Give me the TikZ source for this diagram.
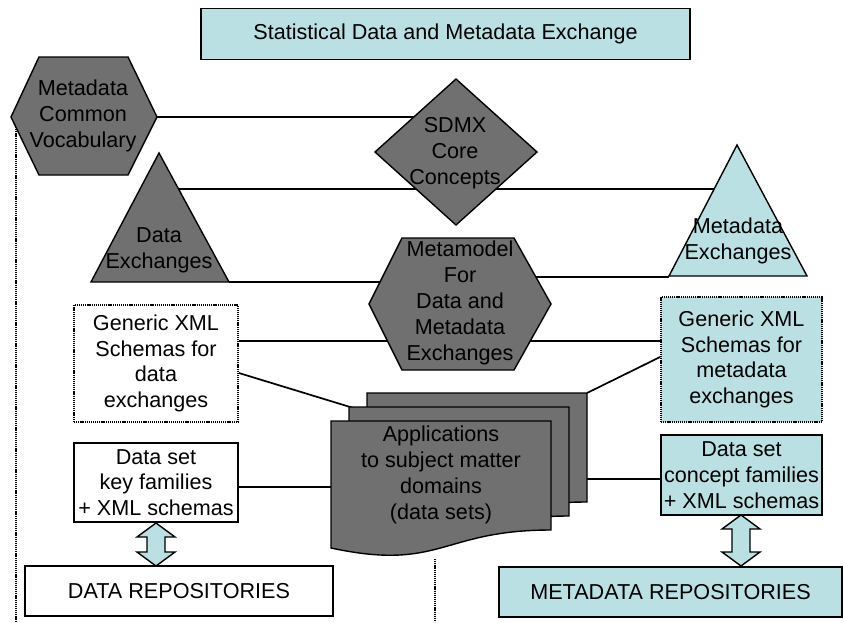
\documentclass[tikz,border=0pt]{standalone}
\usepackage{fontspec}
\setmainfont{Liberation Sans}
\definecolor{dgray}{RGB}{112,112,112}
\definecolor{lcyan}{RGB}{187,224,227}
\tikzset{
  txt/.style={font=\fontsize{21.6}{25.8}\selectfont, text=black, align=center, inner sep=1pt},
  conn/.style={line width=1.7pt},
  dotline/.style={line width=2pt, dash pattern=on 1.2pt off 0.9pt},
  shapefill/.style={draw, line width=1.4pt, fill=dgray},
  cyanfill/.style={draw, line width=1.4pt, fill=lcyan},
  boxsolid/.style={txt, draw, line width=1.7pt, inner sep=2pt},
  boxdotted/.style={txt, draw, line width=1.8pt, dash pattern=on 1.2pt off 0.9pt, inner sep=2pt},
  dblarrow/.style={draw, line width=1.4pt, fill=lcyan}
}
\begin{document}
\begin{tikzpicture}[x=1pt,y=-1pt]
\useasboundingbox (0,0) rectangle (844,622);

% --- boxes (nodes) ---
\node[boxsolid, fill=lcyan, minimum width=489, minimum height=51] (title) at (445.5,34) {Statistical Data and Metadata Exchange};
\node[boxdotted, fill=white, minimum width=164, minimum height=117] (gxd) at (156,363.5) {Generic XML\\Schemas for\\data\\exchanges};
\node[boxdotted, fill=lcyan, minimum width=161, minimum height=125] (gxm) at (741.5,359.5) {Generic XML\\Schemas for\\metadata\\exchanges};
\node[boxsolid, fill=white, minimum width=164, minimum height=79] (dskf) at (156,482.5) {Data set\\key families\\+ XML schemas};
\node[boxsolid, fill=lcyan, minimum width=161, minimum height=80] (dscf) at (741.5,475) {Data set\\concept families\\+ XML schemas};
\node[boxsolid, fill=white, minimum width=308, minimum height=50] (drep) at (179,591) {DATA REPOSITORIES};
\node[boxsolid, fill=lcyan, minimum width=343, minimum height=50] (mrep) at (670.5,592) {METADATA REPOSITORIES};

% --- anchor coordinates of drawn shapes ---
\coordinate (mcvE) at (157,117);
\coordinate (sdmxW) at (430,117);
\coordinate (deE) at (170,189);
\coordinate (meW) at (725,189);
\coordinate (deBR) at (229,282);
\coordinate (mmW1) at (420,282);
\coordinate (mmW2) at (420,341);
\coordinate (mmE1) at (500,277);
\coordinate (meBL) at (669,277);
\coordinate (mmE2) at (500,341);
\coordinate (docMid) at (360,410);
\coordinate (docBack) at (587,393);
\coordinate (docW) at (345,487);
\coordinate (docE) at (540,479);
\coordinate (mcvB) at (16,127);
\coordinate (leftEnd) at (16,622);
\coordinate (docB) at (435,559);
\coordinate (midEnd) at (435,622);

% --- connectors (behind shapes) ---
\draw[conn] (mcvE) -- (sdmxW);
\draw[conn] (deE) -- (meW);
\draw[conn] (deBR) -- (mmW1);
\draw[conn] (gxd.east |- mmW2) -- (mmW2);
\draw[conn] (mmE1) -- (meBL);
\draw[conn] (mmE2) -- (gxm.west |- mmE2);
\draw[conn] (gxd.east |- 0,373) -- (docMid);
\draw[conn] (gxm.west |- 0,357) -- (docBack);
\draw[conn] (dskf.east |- docW) -- (docW);
\draw[conn] (docE) -- (dscf.west |- docE);
\draw[dotline] (mcvB) -- (leftEnd);
\draw[dotline] (docB) -- (midEnd);

% --- shapes ---
\path[shapefill] (11,117) -- (39,57) -- (128,57) -- (157,117) -- (128,175) -- (39,175) -- cycle;
\path[shapefill] (375,152) -- (456,79) -- (537,152) -- (456,225) -- cycle;
\path[shapefill] (159,153) -- (91,282) -- (229,282) -- cycle;
\path[cyanfill] (737,145) -- (669,276) -- (807,276) -- cycle;
\path[shapefill] (369,304) -- (402,238) -- (514,238) -- (551,304) -- (514,370) -- (402,370) -- cycle;
\foreach \ox/\oy in {367/393, 349/407, 331/421} {
  \begin{scope}[shift={(\ox,\oy)}]
    \path[shapefill] (0,0) -- (220,0) -- (220,109) .. controls (110,109) and (110,150.6) .. (0,127) -- cycle;
  \end{scope}
}
% double arrows
\path[dblarrow] (156,523) -- (175,537) -- (165,537) -- (165,552) -- (175,552) -- (156,566) -- (137,552) -- (147,552) -- (147,537) -- (137,537) -- cycle;
\path[dblarrow] (741,515) -- (760,529) -- (750,529) -- (750,552) -- (760,552) -- (741,566) -- (722,552) -- (732,552) -- (732,529) -- (722,529) -- cycle;

% --- shape texts ---
\node[txt] (mcvT) at (83,116) {Metadata\\Common\\Vocabulary};
\node[txt] (sdmxT) at (455,153) {SDMX\\Core\\Concepts};
\node[txt] (deT) at (159,250) {Data\\Exchanges};
\node[txt] (meT) at (738,241) {Metadata\\Exchanges};
\node[txt] (mmT) at (460,303) {Metamodel\\For\\Data and\\Metadata\\Exchanges};
\node[txt] (appT) at (441,475) {Applications\\to subject matter\\domains\\(data sets)};
\end{tikzpicture}
\end{document}
